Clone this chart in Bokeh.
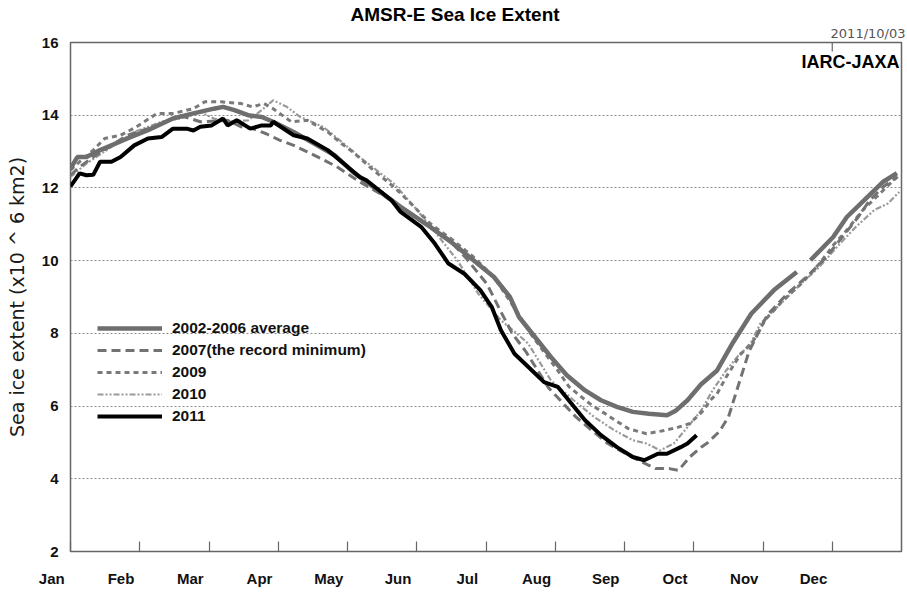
from bokeh.plotting import figure
from bokeh.models import FixedTicker, Label, Legend, LegendItem, Range1d, Title
from bokeh.embed import file_html
from bokeh.resources import INLINE

NAN = float("nan")

month_labels = ["Jan", "Feb", "Mar", "Apr", "May", "Jun",
                "Jul", "Aug", "Sep", "Oct", "Nov", "Dec"]
month_ticks = [k * 365 / 12 for k in range(12)]
y_ticks = [2, 4, 6, 8, 10, 12, 14, 16]

# day of year (0 = Jan 1) and extent (x10^6 km2)
days_avg = [0, 3, 7, 13, 25, 34, 45, 54, 63, 67, 72, 78, 84, 89, 98, 107, 116, 124, 133, 145,
            158, 168, 177, 186, 193, 197, 204, 211, 218, 226, 233, 240, 247, 254, 262, 266,
            271, 277, 284, 291, 299, 309, 319, 322, 325, 335, 341, 350, 357, 363]
ext_avg = [12.53, 12.85, 12.85, 13.04, 13.36, 13.59, 13.91, 14.05, 14.18, 14.23, 14.14, 14.00,
           13.95, 13.82, 13.54, 13.22, 12.90, 12.44, 12.03, 11.48, 10.93, 10.47, 10.01, 9.55,
           9.00, 8.45, 7.90, 7.35, 6.85, 6.43, 6.16, 5.98, 5.84, 5.79, 5.75, 5.88, 6.16, 6.60,
           6.98, 7.75, 8.54, 9.19, 9.69, NAN, 10.01, 10.65, 11.20, 11.75, 12.17, 12.41]

days_2007 = [0, 4, 10, 18, 25, 34, 40, 48, 57, 69, 75, 80, 86, 92, 98, 104, 110, 117, 127, 140,
             151, 166, 174, 183, 189, 194, 200, 206, 210, 216, 222, 228, 236, 245, 251, 257,
             263, 267, 272, 277, 280, 285, 289, 292, 295, 298, 302, 306, 315, 325, 332, 339,
             346, 351, 357, 363]
ext_2007 = [12.35, 12.58, 12.85, 13.17, 13.45, 13.63, 13.77, 14.00, 13.82, 13.86, 13.68, 13.63,
            13.49, 13.31, 13.17, 12.99, 12.81, 12.58, 12.17, 11.70, 11.20, 10.60, 10.05, 9.35,
            8.60, 8.00, 7.50, 6.90, 6.50, 6.10, 5.70, 5.38, 4.97, 4.65, 4.46, 4.28, 4.28, 4.23,
            4.60, 4.87, 5.00, 5.30, 5.70, 6.30, 6.90, 7.50, 8.00, 8.50, 9.10, 9.65, 10.10,
            10.65, 11.20, 11.66, 12.03, 12.30]

days_2009 = [0, 4, 10, 15, 22, 29, 38, 45, 54, 59, 66, 75, 80, 85, 89, 97, 104, 113, 119, 124,
             133, 142, 151, 158, 168, 177, 186, 195, 202, 209, 214, 219, 228, 237, 245, 253,
             261, 267, 272, 278, 281, 284, 288, 294, 300, 305, 313, 321, 329, 335, 341, 348,
             354, 360, 364]
ext_2009 = [12.49, 12.72, 13.04, 13.36, 13.45, 13.68, 14.05, 14.05, 14.18, 14.37, 14.37, 14.32,
            14.23, 14.32, 14.18, 13.82, 13.86, 13.54, 13.22, 12.99, 12.49, 12.03, 11.48, 11.02,
            10.56, 10.10, 9.55, 8.70, 8.00, 7.40, 6.98, 6.53, 6.07, 5.70, 5.38, 5.24, 5.33,
            5.42, 5.52, 5.88, 6.16, 6.34, 6.80, 7.40, 7.80, 8.36, 8.91, 9.37, 9.92, 10.42,
            10.84, 11.39, 11.75, 12.12, 12.35]

days_2010 = [0, 7, 18, 28, 40, 51, 57, 63, 69, 78, 84, 89, 95, 101, 111, 120, 127, 142, 151,
             160, 170, 179, 189, 196, 201, 211, 221, 230, 239, 247, 253, 259, 265, 271, 277,
             282, 288, 294, 298, 303, 312, 321, 329, 338, 345, 353, 359, 364]
ext_2010 = [12.30, 12.67, 13.13, 13.54, 13.82, 13.95, 14.09, 13.91, 13.82, 13.86, 14.14, 14.41,
            14.23, 13.95, 13.68, 13.22, 12.85, 12.12, 11.48, 10.80, 10.00, 9.10, 8.36, 8.00,
            7.72, 6.71, 6.16, 5.70, 5.33, 5.06, 4.97, 4.78, 4.97, 5.42, 5.88, 6.43, 6.98, 7.44,
            7.63, 8.27, 8.82, 9.37, 9.83, 10.47, 10.93, 11.39, 11.57, 11.89]

days_2011 = [0, 4, 7, 10, 13, 18, 22, 28, 34, 40, 45, 51, 54, 57, 62, 67, 69, 73, 79, 84, 88,
             89, 98, 104, 113, 120, 127, 130, 141, 145, 154, 160, 166, 173, 180, 185, 189, 195,
             201, 208, 214, 220, 226, 233, 240, 247, 252, 258, 262, 268, 271, 275]
ext_2011 = [12.04, 12.40, 12.35, 12.36, 12.72, 12.72, 12.85, 13.17, 13.36, 13.40, 13.63, 13.63,
            13.58, 13.68, 13.72, 13.91, 13.72, 13.86, 13.63, 13.72, 13.72, 13.82, 13.45, 13.36,
            13.04, 12.67, 12.30, 12.21, 11.66, 11.34, 10.93, 10.47, 9.92, 9.64, 9.19, 8.73,
            8.09, 7.44, 7.08, 6.66, 6.53, 6.07, 5.61, 5.20, 4.87, 4.60, 4.51, 4.69, 4.69, 4.87,
            4.97, 5.20]

# small mark on the top frame at the December boundary
top_mark_x = [month_ticks[11]]
top_mark_len = 0.25

FONT = "Liberation Sans"
PAD = "\u00a0" * 9   # month names sit a little left of their tick

p = figure(frame_width=831, frame_height=509, output_backend="svg", toolbar_location=None,
           x_range=Range1d(0, 365), y_range=Range1d(2, 16), title_location=None,
           min_border_left=70, min_border_right=6, min_border_top=42, min_border_bottom=40,
           background_fill_color="white", border_fill_color="white")

p.outline_line_color = "#666666"
p.outline_line_width = 1.5

# x axis
p.xaxis.ticker = FixedTicker(ticks=month_ticks)
p.xaxis.major_label_overrides = {t: lab + PAD for t, lab in zip(month_ticks, month_labels)}
p.xaxis.major_tick_in = 10
p.xaxis.major_tick_out = 0
p.xaxis.minor_tick_line_color = None
p.xaxis.major_tick_line_color = "#666666"
p.xaxis.major_tick_line_width = 1.2
p.xaxis.axis_line_color = None
p.xaxis.major_label_standoff = 18
p.xaxis.major_label_text_font = FONT
p.xaxis.major_label_text_font_style = "bold"
p.xaxis.major_label_text_font_size = "15px"
p.xaxis.major_label_text_color = "#111111"

# y axis
p.yaxis.ticker = FixedTicker(ticks=y_ticks)
p.yaxis.major_tick_in = 0
p.yaxis.major_tick_out = 0
p.yaxis.minor_tick_line_color = None
p.yaxis.axis_line_color = None
p.yaxis.major_label_standoff = 12
p.yaxis.major_label_text_font = FONT
p.yaxis.major_label_text_font_style = "bold"
p.yaxis.major_label_text_font_size = "15px"
p.yaxis.major_label_text_color = "#111111"
p.yaxis.axis_label = "Sea ice extent (x10 ^ 6 km2)"
p.yaxis.axis_label_text_font = "DejaVu Sans"
p.yaxis.axis_label_text_font_style = "normal"
p.yaxis.axis_label_text_font_size = "19px"
p.yaxis.axis_label_text_color = "#1a1a1a"
p.yaxis.axis_label_standoff = 11

# titles above the frame (first added sits nearest the frame)
p.add_layout(Title(text="2011/10/03", align="right", offset=-4, standoff=3,
                   text_font="DejaVu Sans", text_font_style="normal",
                   text_font_size="13px", text_color="#555555"), "above")
p.add_layout(Title(text="AMSR-E Sea Ice Extent", align="left", offset=280, standoff=-5,
                   text_font=FONT, text_font_style="bold", text_font_size="19px",
                   text_color="#000000"), "above")

p.xgrid.visible = False
p.ygrid.grid_line_color = "#8a8a8a"
p.ygrid.grid_line_dash = "2 2"
p.ygrid.grid_line_width = 1

p.segment(x0=top_mark_x, y0=[16], x1=top_mark_x, y1=[16 - top_mark_len],
          line_color="#666666", line_width=1.2)

r10 = p.line(days_2010, ext_2010, line_color="#9a9a9a", line_width=2.2,
             line_dash="6 2 2 2 2 2")
r09 = p.line(days_2009, ext_2009, line_color="#7a7a7a", line_width=3,
             line_dash="5 4")
r07 = p.line(days_2007, ext_2007, line_color="#727272", line_width=3,
             line_dash="9 5")
ravg = p.line(days_avg, ext_avg, line_color="#6e6e6e", line_width=4.5)
r11 = p.line(days_2011, ext_2011, line_color="#000000", line_width=4)

legend = Legend(items=[
    LegendItem(label="2002-2006 average", renderers=[ravg]),
    LegendItem(label="2007(the record minimum)", renderers=[r07]),
    LegendItem(label="2009", renderers=[r09]),
    LegendItem(label="2010", renderers=[r10]),
    LegendItem(label="2011", renderers=[r11]),
], location=(27, 124), glyph_width=65, glyph_height=22, label_height=22, spacing=0,
    padding=0, margin=0, label_standoff=10, border_line_color=None,
    background_fill_alpha=0, label_text_font=FONT, label_text_font_style="bold",
    label_text_font_size="15.5px", label_text_color="#111111")
p.add_layout(legend)

p.add_layout(Label(x=829, y=490, x_units="screen", y_units="screen",
                   text="IARC-JAXA", text_align="right", text_baseline="middle",
                   text_font=FONT, text_font_style="bold", text_font_size="18px",
                   text_color="#000000"))

open("out.html", "w").write(file_html(p, INLINE))
